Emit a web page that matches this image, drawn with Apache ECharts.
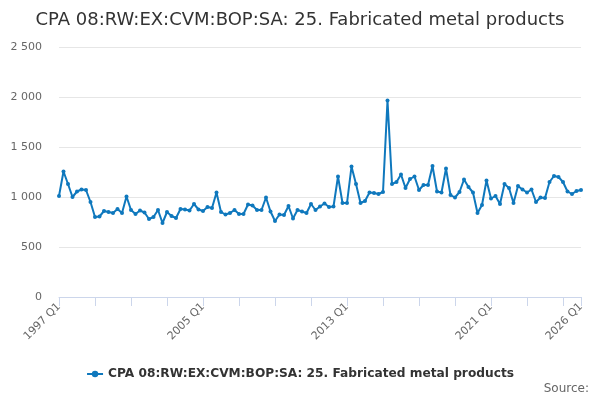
<!DOCTYPE html>
<html>
<head>
<meta charset="utf-8">
<title>CPA 08:RW:EX:CVM:BOP:SA: 25. Fabricated metal products</title>
<script src="https://cdn.jsdelivr.net/npm/echarts@6/dist/echarts.min.js"></script>
<style>
    html, body { margin: 0; padding: 0; background: #fff; }
    #chart1 { width: 600px; height: 400px; }
</style>
</head>
<body>
<div id="chart1"></div>
<script>
var seriesName = 'CPA 08:RW:EX:CVM:BOP:SA: 25. Fabricated metal products';

var firstYear = 1997;     // first quarter 1997 Q1
var lastYear = 2026;      // last quarter 2026 Q1

// quarterly values, 1997 Q1 .. 2026 Q1
var values = [
    1010, 1255, 1130, 1000, 1055, 1075, 1070, 950, 800, 805, 860, 850, 840, 880, 840, 1005, 870, 830, 865, 845, 780,
    800, 870, 740, 850, 810, 790, 880, 875, 865, 930, 875, 860, 900, 890, 1045, 850, 825, 840, 870, 830, 830,
    925, 915, 870, 870, 995, 855, 760, 825, 820, 910, 785, 870, 855, 840, 930, 870, 905, 935, 900, 905,
    1205, 940, 940, 1305, 1130, 940, 960, 1045, 1040, 1030, 1050, 1965, 1130, 1150, 1225, 1090, 1180, 1205, 1070, 1120, 1120, 1310,
    1055, 1045, 1285, 1020, 995, 1050, 1175, 1100, 1045, 840, 920, 1165, 985, 1010, 930, 1130, 1090,
    940, 1110, 1075, 1045, 1075, 950, 995, 990, 1150, 1210, 1200, 1150, 1055, 1030, 1060, 1070
];

var yTicks = [0, 500, 1000, 1500, 2000, 2500];

var quarters = [];
for (var y = firstYear; y <= lastYear; y++) {
    for (var q = 1; q <= 4; q++) {
        quarters.push(y + ' Q' + q);
        if (y == lastYear) break;
    }
}
var lastIdx = quarters.length - 1;

window.onload = function () {
    chartInit();
}

function chartInit() {
    var myChart1 = echarts.init(document.getElementById('chart1'));

    var option1 = {
        animation: false,
        title: {
            text: seriesName,
            left: 'center',
            top: 6,
            textStyle: {
                fontFamily: 'DejaVu Sans',
                fontSize: 18,
                fontWeight: 'normal',
                color: '#333333'
            }
        },
        grid: {
            left: 59,
            right: 19,
            top: 47,
            bottom: 103
        },
        legend: {
            data: [seriesName],
            bottom: 15,
            left: 'center',
            itemWidth: 16,
            itemHeight: 8,
            itemGap: 6,
            textStyle: {
                fontFamily: 'DejaVu Sans',
                fontSize: 12.2,
                fontWeight: 'bold',
                color: '#333333'
            }
        },
        graphic: [{
            type: 'text',
            right: 11,
            bottom: 5,
            style: {
                text: 'Source:',
                fontFamily: 'DejaVu Sans',
                fontSize: 12,
                fill: '#666666'
            }
        }],
        xAxis: {
            type: 'category',
            data: quarters,
            boundaryGap: false,
            axisLine: { lineStyle: { color: '#ccd6eb' } },
            axisTick: {
                length: 9,
                lineStyle: { color: '#ccd6eb' },
                interval: function (index) { return index % 8 == 0 || index == lastIdx; }
            },
            axisLabel: {
                rotate: 45,
                margin: 8,
                fontFamily: 'DejaVu Sans',
                fontSize: 11,
                color: '#666666',
                interval: function (index) { return index % 32 == 0 || index == lastIdx; }
            },
            splitLine: { show: false }
        },
        yAxis: {
            type: 'value',
            min: yTicks[0],
            max: yTicks[yTicks.length - 1],
            interval: 500,
            axisLine: { show: false },
            axisTick: { show: false },
            axisLabel: {
                margin: 17,
                fontFamily: 'DejaVu Sans',
                fontSize: 11,
                color: '#666666',
                formatter: function (v) {
                    return String(v).replace(/\B(?=(\d{3})+(?!\d))/g, ' ');
                }
            },
            splitLine: { lineStyle: { color: '#e6e6e6' } }
        },
        series: [{
            name: seriesName,
            type: 'line',
            data: values,
            symbol: 'circle',
            symbolSize: 4,
            showAllSymbol: true,
            itemStyle: { color: '#0f78bd' },
            lineStyle: { color: '#0f78bd', width: 2 }
        }]
    };

    myChart1.setOption(option1);
}
</script>
</body>
</html>
